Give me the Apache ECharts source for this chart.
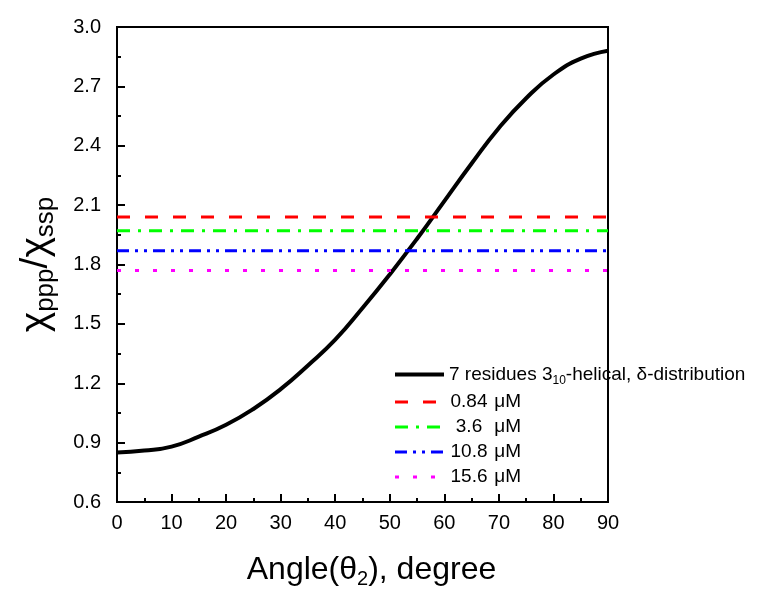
<!DOCTYPE html>
<html>
<head>
<meta charset="utf-8">
<script src="https://cdn.jsdelivr.net/npm/echarts@6/dist/echarts.min.js"></script>
<style>
html, body { margin: 0; padding: 0; background: #fff; }
#main { width: 776px; height: 601px; }
</style>
</head>
<body>
<div id="main"></div>
<script>
// angle (deg) vs chi_ppp/chi_ssp
var angles = [0, 5, 10, 15, 20, 25, 30, 35, 40, 45, 50, 55, 60, 65, 70, 75, 80, 85, 90];
var helical = [0.85, 0.86, 0.88, 0.93, 0.99, 1.07, 1.17, 1.29, 1.42, 1.58, 1.75, 1.93, 2.12, 2.31, 2.49, 2.64, 2.76, 2.84, 2.88];
var helicalName = '7 residues 3_10-helical, δ-distribution';

// measured ratios for each concentration
var concNames = ['0.84 μM', '3.6 μM', '10.8 μM', '15.6 μM'];
var concValues = [2.04, 1.97, 1.87, 1.77];
var concColors = ['#ff0000', '#00ff00', '#0000ff', '#ff00ff'];
var concDash = [[13, 15], [13, 8, 3, 8], [12, 6, 3, 6, 3, 6], [4, 14]];

var font = 'Arial, "Liberation Sans", sans-serif';

var series = [{
	name: helicalName,
	type: 'line',
	smooth: true,
	showSymbol: false,
	symbol: 'none',
	z: 3,
	lineStyle: { color: '#000', width: 4 },
	itemStyle: { color: '#000' },
	data: angles.map(function (a, i) { return [a, helical[i]]; })
}];
for (var i = 0; i < concNames.length; i++) {
	series.push({
		name: concNames[i],
		type: 'line',
		showSymbol: false,
		symbol: 'none',
		lineStyle: { color: concColors[i], width: 3, type: concDash[i] },
		itemStyle: { color: concColors[i] },
		data: [[angles[0], concValues[i]], [angles[angles.length - 1], concValues[i]]]
	});
}

var option = {
	animation: false,
	backgroundColor: '#fff',
	grid: {
		left: 117,
		right: 168,
		top: 27,
		bottom: 99,
		show: true,
		borderColor: '#000',
		borderWidth: 2
	},
	legend: {
		orient: 'vertical',
		left: 388,
		top: 360,
		itemWidth: 49,
		itemHeight: 14,
		itemGap: 6,
		itemStyle: { opacity: 0 },
		lineStyle: { width: 'inherit' },
		data: [helicalName].concat(concNames),
		formatter: function (name) {
			if (name === helicalName) {
				return '7 residues 3{sub|10}-helical, δ-distribution';
			}
			var parts = name.split(' ');
			return '{num|' + parts[0] + '} ' + parts[1];
		},
		textStyle: {
			fontFamily: font,
			fontSize: 19,
			color: '#000',
			rich: {
				sub: { fontSize: 12, fontFamily: font, padding: [12, 0, 0, 0] },
				num: { fontSize: 19, fontFamily: font, width: 40, align: 'right' }
			}
		}
	},
	xAxis: {
		type: 'value',
		min: 0,
		max: 90,
		interval: 10,
		name: 'Angle({t|θ}{s|2}), degree',
		nameLocation: 'middle',
		nameGap: 49,
		nameTextStyle: {
			fontFamily: font,
			fontSize: 32,
			color: '#000',
			padding: [0, 0, 0, 18],
			rich: {
				t: { fontSize: 32, fontFamily: font },
				s: { fontSize: 20, fontFamily: font, padding: [18, 0, 0, 0] }
			}
		},
		axisLine: { lineStyle: { color: '#000', width: 2 } },
		axisTick: { inside: true, length: 8, lineStyle: { width: 2, color: '#000' } },
		minorTick: { show: true, splitNumber: 2, length: 4, lineStyle: { width: 2, color: '#000' } },
		splitLine: { show: false },
		axisLabel: { fontFamily: font, fontSize: 20, color: '#000', margin: 11 }
	},
	yAxis: {
		type: 'value',
		min: 0.6,
		max: 3.0,
		interval: 0.3,
		name: '{c|χ}{s|ppp}{c|/χ}{s|ssp}',
		nameLocation: 'middle',
		nameGap: 58,
		nameTextStyle: {
			fontFamily: font,
			fontSize: 38,
			color: '#000',
			rich: {
				c: { fontSize: 39, fontFamily: font },
				s: { fontSize: 26, fontFamily: font, padding: [20, 0, 0, 0] }
			}
		},
		axisLine: { lineStyle: { color: '#000', width: 2 } },
		axisTick: { inside: true, length: 8, lineStyle: { width: 2, color: '#000' } },
		minorTick: { show: true, splitNumber: 2, length: 4, lineStyle: { width: 2, color: '#000' } },
		splitLine: { show: false },
		axisLabel: {
			fontFamily: font,
			fontSize: 20,
			color: '#000',
			margin: 16,
			formatter: function (v) { return v.toFixed(1); }
		}
	},
	series: series
};

var myChart = echarts.init(document.getElementById('main'));
myChart.setOption(option, true);
</script>
</body>
</html>
